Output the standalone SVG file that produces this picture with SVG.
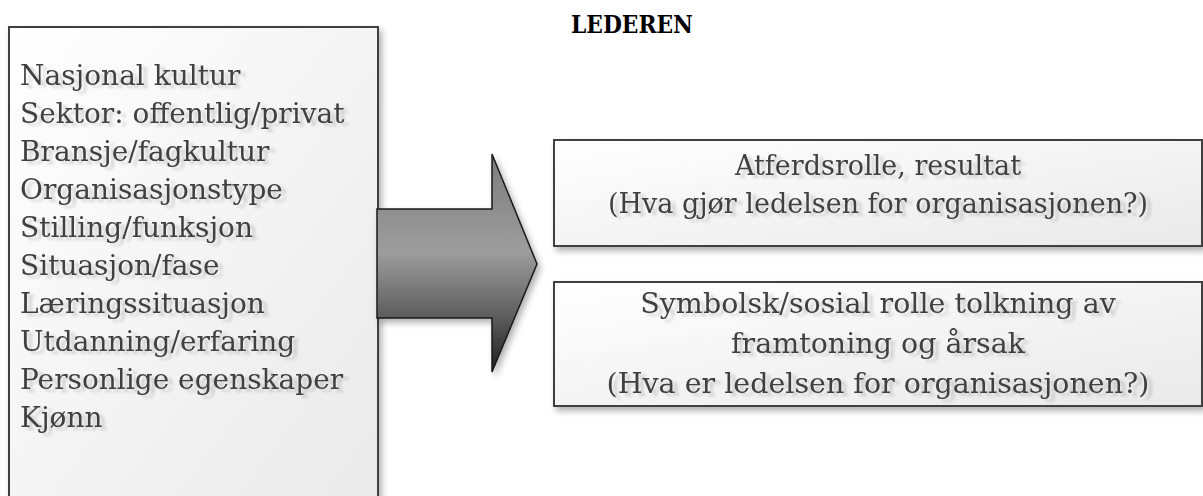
<svg xmlns="http://www.w3.org/2000/svg" width="1203" height="496" viewBox="0 0 1203 496">
  <defs>
    <linearGradient id="boxFill" x1="0" y1="0" x2="1" y2="1">
      <stop offset="0" stop-color="#ffffff"/>
      <stop offset="0.55" stop-color="#f3f3f3"/>
      <stop offset="1" stop-color="#e9e9e9"/>
    </linearGradient>
    <linearGradient id="arrowFill" x1="0" y1="154" x2="0" y2="372" gradientUnits="userSpaceOnUse">
      <stop offset="0" stop-color="#7c7c7c"/>
      <stop offset="0.45" stop-color="#9d9d9d"/>
      <stop offset="0.75" stop-color="#5c5c5c"/>
      <stop offset="1" stop-color="#1c1c1c"/>
    </linearGradient>
    <filter id="boxShadow" x="-5%" y="-10%" width="115%" height="130%">
      <feDropShadow dx="3" dy="4" stdDeviation="3" flood-color="#000" flood-opacity="0.3"/>
    </filter>
    <filter id="textShadow" x="-5%" y="-30%" width="115%" height="170%">
      <feGaussianBlur in="SourceAlpha" stdDeviation="1.6"/>
      <feOffset dx="5" dy="3" result="blur"/>
      <feFlood flood-color="#000" flood-opacity="0.16"/>
      <feComposite in2="blur" operator="in"/>
      <feMerge>
        <feMergeNode/>
        <feMergeNode in="SourceGraphic"/>
      </feMerge>
    </filter>
  </defs>
  <style>
    .box { fill: url(#boxFill); stroke: #3f3f3f; stroke-width: 2; filter: url(#boxShadow); }
    .label { font-family: "DejaVu Serif", "Liberation Serif", serif; fill: #404040; filter: url(#textShadow); }
    .list { font-size: 28px; }
    .role { font-size: 27px; text-anchor: middle; }
    .role2 { font-size: 28.5px; text-anchor: middle; }
    .title { font-family: "DejaVu Serif", "Liberation Serif", serif; font-weight: bold; font-size: 25px; fill: #000; }
  </style>

  <rect width="1203" height="496" fill="#ffffff"/>

  <g id="title">
    <text class="title" x="571" y="33" textLength="122" lengthAdjust="spacingAndGlyphs">LEDEREN</text>
  </g>

  <!-- factors that shape the leader -->
  <g id="factors">
    <rect class="box" x="9" y="27" width="369" height="490"/>
    <text class="label list" x="20" y="85">Nasjonal kultur</text>
    <text class="label list" x="20" y="123">Sektor: offentlig/privat</text>
    <text class="label list" x="20" y="161">Bransje/fagkultur</text>
    <text class="label list" x="20" y="199">Organisasjonstype</text>
    <text class="label list" x="20" y="237">Stilling/funksjon</text>
    <text class="label list" x="20" y="275">Situasjon/fase</text>
    <text class="label list" x="20" y="313">Læringssituasjon</text>
    <text class="label list" x="20" y="351">Utdanning/erfaring</text>
    <text class="label list" x="20" y="389">Personlige egenskaper</text>
    <text class="label list" x="20" y="427">Kjønn</text>
  </g>

  <g id="connectors">
    <path d="M377,209 H492 V154 L537,264 L492,372 V318 H377 Z" fill="url(#arrowFill)" stroke="#1a1a1a" stroke-width="1.5" stroke-linejoin="miter" filter="url(#boxShadow)"/>
  </g>

  <g id="behaviour-role">
    <rect class="box" x="554" y="140" width="648" height="106"/>
    <text class="label role" x="878" y="175">Atferdsrolle, resultat</text>
    <text class="label role" x="878" y="213">(Hva gjør ledelsen for organisasjonen?)</text>
  </g>

  <g id="symbolic-role">
    <rect class="box" x="554" y="282" width="648" height="124"/>
    <text class="label role2" x="878" y="313">Symbolsk/sosial rolle tolkning av</text>
    <text class="label role2" x="878" y="353">framtoning og årsak</text>
    <text class="label role2" x="878" y="393">(Hva er ledelsen for organisasjonen?)</text>
  </g>
</svg>
